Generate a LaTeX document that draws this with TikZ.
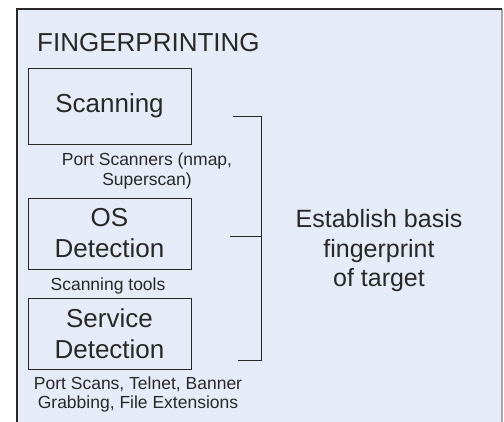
\documentclass[tikz,border=0pt]{standalone}
\usepackage{fontspec}
\setmainfont{Liberation Sans}
\usepackage{tikz}

\definecolor{panelblue}{RGB}{230,236,247}
\definecolor{inkgray}{RGB}{40,40,40}

\tikzset{
    stagebox/.style={draw=inkgray, thick, minimum width=163pt, align=center,
        inner sep=0pt, font=\fontsize{26}{31}\selectfont, text=inkgray},
    toolnote/.style={align=center, inner sep=0pt, text=inkgray,
        font=\fontsize{17.5}{19.5}\selectfont}
}

\begin{document}
\begin{tikzpicture}[x=1pt, y=-1pt]
    \useasboundingbox (0,0) rectangle (504,421);
    \fill[white] (0,0) rectangle (504,421);

    % Outer panel
    \begin{scope}
        \clip (0,0) rectangle (504,421);
        \fill[panelblue] (17,9) rectangle (502,430);
        \draw[gray!70, line width=1.5pt] (502,9) -- (502,430);
        \draw[inkgray, line width=1.5pt] (17,430) -- (17,9) -- (502,9);
    \end{scope}
    \node[anchor=base west, inner sep=0pt, text=inkgray,
        font=\fontsize{26}{31}\selectfont] (title) at (37,51) {FINGERPRINTING};

    % Stages
    \node[stagebox, minimum height=76pt] (scan) at (109.5,106) {Scanning};
    \node[stagebox, minimum height=71pt] (os) at (109.5,233.5) {OS\\Detection};
    \node[stagebox, minimum height=71pt] (svc) at (109.5,333.5) {Service\\Detection};

    % Tools under each stage
    \node[toolnote] (scannote) at (147,171) {Port Scanners (nmap,\\Superscan)};
    \node[toolnote] (osnote) at (108,286) {Scanning tools};
    \node[toolnote] (svcnote) at (138,394.5) {Port Scans, Telnet, Banner\\Grabbing, File Extensions};

    % Bracket
    \coordinate (btop) at (233,116);
    \coordinate (bmid) at (230,236);
    \coordinate (bbot) at (238,360);
    \draw[inkgray, thick] (btop) -- (261,116) -- (261,360) -- (bbot);
    \draw[inkgray, thick] (bmid) -- (261,236);

    % Result
    \node[align=center, inner sep=0pt, text=inkgray,
        font=\fontsize{25}{29.5}\selectfont] (goal) at (379,251) {Establish basis\\fingerprint\\of target};
\end{tikzpicture}
\end{document}
